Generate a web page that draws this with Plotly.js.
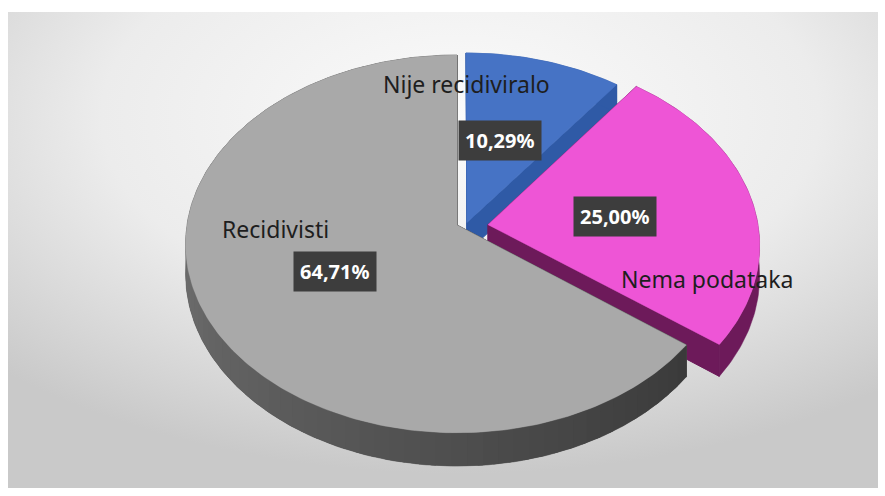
<!DOCTYPE html>
<html>
<head>
<meta charset="utf-8">
<script src="https://cdn.plot.ly/plotly-3.0.1.min.js"></script>
<style>html,body{margin:0;padding:0;background:#fff;}#chart{width:885px;height:496px;}</style>
</head>
<body>
<div id="chart"></div>
<script>
// ---- data ----
var labels = ["Nije recidiviralo", "Nema podataka", "Recidivisti"];
var values = [10.29, 25.00, 64.71];
var valueText = ["10,29%", "25,00%", "64,71%"];

// ---- style ----
var topColors = ["#4673c5", "#ee55d6", "#a9a9a9"];
var sideColors = ["#2f5aa6", "#6d1a5a", null];
var pull = [0.116, 0.116, 0];
var pullZ = 0.12;          // how much explosion moves into depth
var persp = 0.10;          // perspective strength
var W = 885, H = 496;
var cx = 457, cy = 225, rx = 270, ry = 187, depth = 30;

var total = values.reduce(function(a, b){ return a + b; }, 0);
var traces = [];

function proj(X, Z, drop){
  var s = 1 / (1 + persp * Z);
  return [cx + rx * X * s, cy - ry * Z * s + (drop ? depth * s : 0)];
}
function grayShade(deg){
  var t = Math.max(0, Math.min(1, (deg - 127) / (270 - 127)));
  var v = Math.round(58 + (112 - 58) * t);
  return "rgb(" + v + "," + v + "," + v + ")";
}
function poly(pts, col, lw){
  traces.push({
    type: "scatter", mode: "lines", hoverinfo: "skip", showlegend: false,
    x: pts.map(function(p){ return p[0]; }),
    y: pts.map(function(p){ return p[1]; }),
    fill: "toself", fillcolor: col, line: {color: col, width: lw}
  });
}
function wall(W3, from, to){
  var topPts = [], botPts = [];
  for (var k = from; k <= to; k++) {
    topPts.push(proj(W3[k][0], W3[k][1]));
    botPts.push(proj(W3[k][0], W3[k][1], true));
  }
  var pts = topPts.concat(botPts.reverse());
  return pts.concat([pts[0]]);
}

var start = 0;
values.forEach(function(v, i){
  var a0 = start / total * 360;
  var a1 = (start + v) / total * 360;
  start += v;
  var mid = (a0 + a1) / 2 * Math.PI / 180;
  var ox = pull[i] * Math.sin(mid);
  var oz = pull[i] * Math.cos(mid) * pullZ;
  var n = Math.max(6, Math.ceil((a1 - a0) / 1.0));
  var W3 = [];
  for (var k = 0; k <= n; k++) {
    var a = (a0 + (a1 - a0) * k / n) * Math.PI / 180;
    W3.push([ox + Math.sin(a), oz + Math.cos(a), a * 180 / Math.PI]);
  }
  var V = [ox, oz];

  // radial cut faces
  [[V, W3[0]], [V, W3[n]]].forEach(function(e){
    var p = e[0], q = e[1];
    var pts = [proj(p[0], p[1]), proj(q[0], q[1]), proj(q[0], q[1], true), proj(p[0], p[1], true)];
    poly(pts.concat([pts[0]]), sideColors[i] || "#3c3c3c", 1);
  });
  // outer wall
  if (sideColors[i]) {
    poly(wall(W3, 0, n), sideColors[i], 0.5);
  } else {
    poly(wall(W3, 0, n), "#4a4a4a", 0.5);     // base under shaded bands
    var step = 3;
    for (var b = 0; b < n; b += step) {
      var e2 = Math.min(n, b + step + 1);
      poly(wall(W3, b, e2), grayShade(W3[Math.min(n, b + 1)][2]), 0);
    }
  }
  // top face
  var tp = [proj(V[0], V[1])];
  W3.forEach(function(w){ tp.push(proj(w[0], w[1])); });
  tp.push(tp[0]);
  poly(tp, topColors[i], 0.5);
});

var bgSvg = '<svg xmlns="http://www.w3.org/2000/svg" width="870" height="476">' +
  '<defs><radialGradient id="g" cx="0.52" cy="0.22" r="0.75">' +
  '<stop offset="0" stop-color="#fbfbfb"/><stop offset="0.55" stop-color="#ececec"/>' +
  '<stop offset="1" stop-color="#c9c9c9"/></radialGradient></defs>' +
  '<rect width="870" height="476" fill="url(#g)"/></svg>';

var nameFont = {family: "Noto Sans, sans-serif", size: 23, color: "#1e1e1e"};
var pctFont = {family: "Noto Sans, sans-serif", size: 20, color: "#ffffff", weight: "bold"};
var ann = [
  {x: 466, y: 84, text: labels[0], font: nameFont},
  {x: 707, y: 279, text: labels[1], font: nameFont},
  {x: 275, y: 229, text: labels[2], font: nameFont},
  {x: 500, y: 140, text: valueText[0], font: pctFont, bgcolor: "#3d3d3d", borderpad: 6},
  {x: 615, y: 216, text: valueText[1], font: pctFont, bgcolor: "#3d3d3d", borderpad: 6},
  {x: 335, y: 271, text: valueText[2], font: pctFont, bgcolor: "#3d3d3d", borderpad: 6}
].map(function(a){
  a.xref = "x"; a.yref = "y"; a.showarrow = false; a.xanchor = "center"; a.yanchor = "middle";
  return a;
});

var layout = {
  width: W, height: H,
  margin: {l: 0, r: 0, t: 0, b: 0},
  paper_bgcolor: "#ffffff", plot_bgcolor: "rgba(0,0,0,0)",
  xaxis: {range: [0, W], visible: false, fixedrange: true},
  yaxis: {range: [H, 0], visible: false, fixedrange: true},
  showlegend: false,
  images: [{
    source: "data:image/svg+xml;charset=utf-8," + encodeURIComponent(bgSvg),
    xref: "x", yref: "y", x: 8, y: 12, sizex: 870, sizey: 476,
    sizing: "stretch", layer: "below", xanchor: "left", yanchor: "top"
  }],
  annotations: ann
};

Plotly.newPlot("chart", traces, layout, {staticPlot: true, displayModeBar: false});
</script>
</body>
</html>
